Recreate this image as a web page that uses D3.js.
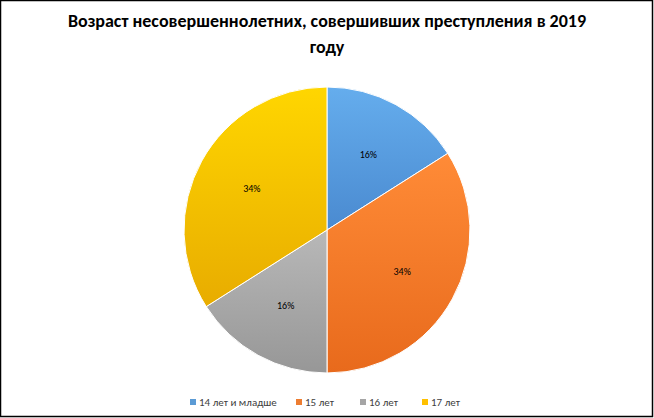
<!DOCTYPE html>
<html><head><meta charset="utf-8">
<script src="https://cdn.jsdelivr.net/npm/d3@7"></script>
<style>body{margin:0;background:#fff}</style>
</head><body>
<svg width="654" height="418"></svg>
<script>
const categories = ['14 лет и младше', '15 лет', '16 лет', '17 лет']
const values = [16, 34, 16, 34]
const colors = ['#5b9bd5', '#ed7d31', '#a5a5a5', '#ffc000']
const darker = ['#4a8ad0', '#e86a1c', '#979797', '#e8ac00']

const svg = d3.select('svg')
svg.append('rect').attr('x', 0.5).attr('y', 0.5).attr('width', 652).attr('height', 416)
    .attr('fill', '#fff').attr('stroke', '#000').attr('stroke-width', 1.5)

const defs = svg.append('defs')
colors.forEach((c, i) => {
    const g = defs.append('linearGradient').attr('id', 'g' + i)
        .attr('x1', 0).attr('y1', 0).attr('x2', 0).attr('y2', 1)
    g.append('stop').attr('offset', '0%').attr('stop-color', d3.color(c).brighter(0.3))
    g.append('stop').attr('offset', '100%').attr('stop-color', darker[i])
})

const title = svg.append('text').attr('text-anchor', 'middle')
    .attr('font-family', 'Calibri, Carlito, "Liberation Sans", sans-serif')
    .attr('font-weight', 'bold').attr('font-size', 18).attr('fill', '#000')
title.append('tspan').attr('x', 327).attr('y', 27).text('Возраст  несовершеннолетних,  совершивших  преступления  в 2019')
title.append('tspan').attr('x', 327).attr('y', 53).text('году')

const cx = 327, cy = 230, r = 143
const pie = d3.pie().sort(null)
const arcs = pie(values)
const arc = d3.arc().innerRadius(0).outerRadius(r)
const g = svg.append('g').attr('transform', `translate(${cx},${cy})`)
g.selectAll('path').data(arcs).enter().append('path')
    .attr('d', arc).attr('fill', (d, i) => `url(#g${i})`)
    .attr('stroke', '#fff').attr('stroke-width', 1)

const labelArc = d3.arc().innerRadius(r * 0.6).outerRadius(r * 0.6)
g.selectAll('text').data(arcs).enter().append('text')
    .attr('transform', d => `translate(${labelArc.centroid(d)})`)
    .attr('text-anchor', 'middle').attr('dy', '0.35em')
    .attr('font-family', 'Calibri, Carlito, "Liberation Sans", sans-serif')
    .attr('font-size', 10).attr('fill', '#000')
    .text(d => d.value + '%')

const legX = [190, 296, 360, 422]
const leg = svg.append('g')
categories.forEach((c, i) => {
    leg.append('rect').attr('x', legX[i]).attr('y', 399).attr('width', 6).attr('height', 6).attr('fill', colors[i])
    leg.append('text').attr('x', legX[i] + 9).attr('y', 406)
        .attr('font-family', 'Calibri, Carlito, "Liberation Sans", sans-serif')
        .attr('font-size', 11).attr('fill', '#404040').text(c)
})
</script>
</body></html>
